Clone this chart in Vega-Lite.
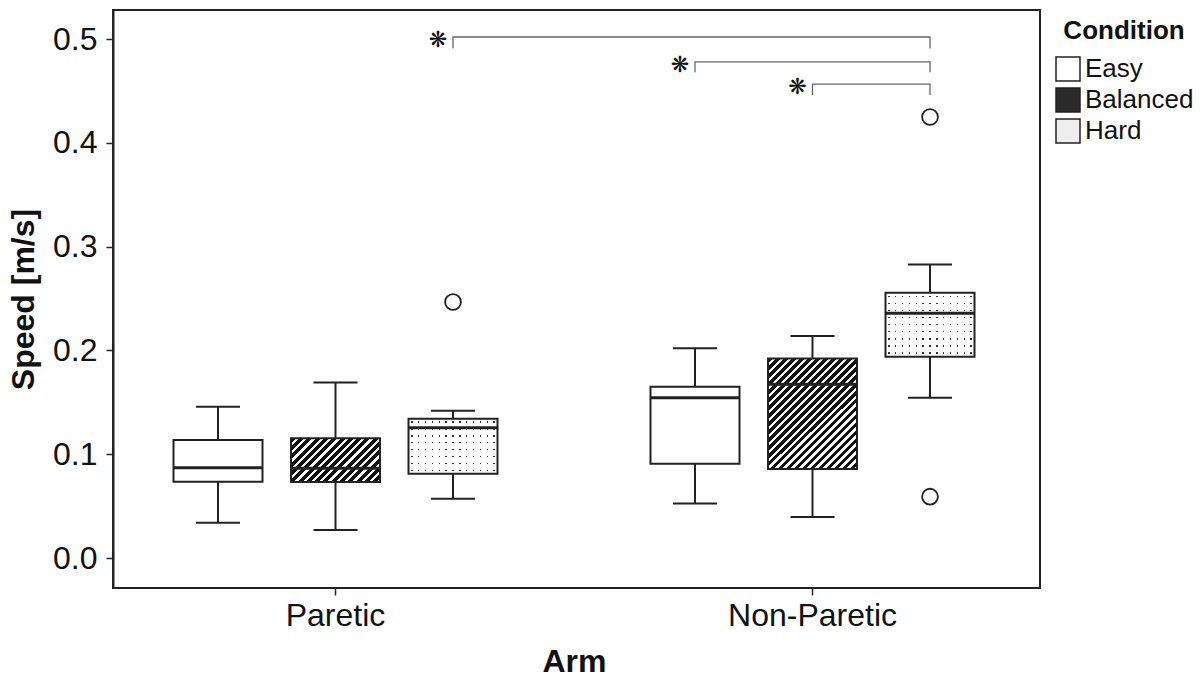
{
  "$schema": "https://vega.github.io/schema/vega-lite/v6.json",
  "width": 927,
  "height": 578,
  "autosize": {"type": "none"},
  "padding": {"left": 113, "top": 10, "right": 163, "bottom": 96},
  "background": "white",
  "config": {
    "font": "Liberation Sans",
    "view": {"stroke": "#222", "strokeWidth": 2},
    "axis": {"grid": false, "domainColor": "#222", "domainWidth": 2, "tickColor": "#222", "tickWidth": 1.5, "tickSize": 7, "labelColor": "#111", "titleColor": "#111", "labelFontSize": 32, "titleFontSize": 32, "titleFontWeight": "bold"}
  },
  "datasets": {
    "boxes": [
      {"Arm": "Paretic", "Condition": "Easy", "lower": 0.034, "q1": 0.0735, "median": 0.087, "q3": 0.1137, "upper": 0.1458},
      {"Arm": "Paretic", "Condition": "Balanced", "lower": 0.027, "q1": 0.0732, "median": 0.0864, "q3": 0.1153, "upper": 0.1692},
      {"Arm": "Paretic", "Condition": "Hard", "lower": 0.0571, "q1": 0.0812, "median": 0.1256, "q3": 0.1342, "upper": 0.1419},
      {"Arm": "Non-Paretic", "Condition": "Easy", "lower": 0.0524, "q1": 0.0909, "median": 0.1545, "q3": 0.1651, "upper": 0.202},
      {"Arm": "Non-Paretic", "Condition": "Balanced", "lower": 0.0395, "q1": 0.0857, "median": 0.1673, "q3": 0.1923, "upper": 0.2139},
      {"Arm": "Non-Paretic", "Condition": "Hard", "lower": 0.1545, "q1": 0.194, "median": 0.2357, "q3": 0.2556, "upper": 0.2829}
    ],
    "outliers": [
      {"Arm": "Paretic", "Condition": "Hard", "Speed": 0.2466},
      {"Arm": "Non-Paretic", "Condition": "Hard", "Speed": 0.0591},
      {"Arm": "Non-Paretic", "Condition": "Hard", "Speed": 0.4249}
    ],
    "brackets": [
      {"id": 1, "seq": 1, "Arm": "Paretic", "Condition": "Hard", "y": 0.491},
      {"id": 1, "seq": 2, "Arm": "Paretic", "Condition": "Hard", "y": 0.502},
      {"id": 1, "seq": 3, "Arm": "Non-Paretic", "Condition": "Hard", "y": 0.502},
      {"id": 1, "seq": 4, "Arm": "Non-Paretic", "Condition": "Hard", "y": 0.491},
      {"id": 2, "seq": 1, "Arm": "Non-Paretic", "Condition": "Easy", "y": 0.468},
      {"id": 2, "seq": 2, "Arm": "Non-Paretic", "Condition": "Easy", "y": 0.478},
      {"id": 2, "seq": 3, "Arm": "Non-Paretic", "Condition": "Hard", "y": 0.478},
      {"id": 2, "seq": 4, "Arm": "Non-Paretic", "Condition": "Hard", "y": 0.468},
      {"id": 3, "seq": 1, "Arm": "Non-Paretic", "Condition": "Balanced", "y": 0.446},
      {"id": 3, "seq": 2, "Arm": "Non-Paretic", "Condition": "Balanced", "y": 0.4566},
      {"id": 3, "seq": 3, "Arm": "Non-Paretic", "Condition": "Hard", "y": 0.4566},
      {"id": 3, "seq": 4, "Arm": "Non-Paretic", "Condition": "Hard", "y": 0.446}
    ],
    "stars": [
      {"Arm": "Paretic", "Condition": "Hard", "y": 0.502, "label": "❋"},
      {"Arm": "Non-Paretic", "Condition": "Easy", "y": 0.478, "label": "❋"},
      {"Arm": "Non-Paretic", "Condition": "Balanced", "y": 0.4566, "label": "❋"}
    ]
  },
  "encoding": {
    "x": {"field": "Arm", "type": "nominal", "sort": ["Paretic", "Non-Paretic"],
      "scale": {"domain": ["Paretic", "Non-Paretic"], "range": [-16, 938], "paddingInner": 0, "paddingOuter": 0},
      "axis": {"title": "Arm", "labelAngle": 0, "labelPadding": 5, "titlePadding": 15, "domain": false}},
    "xOffset": {"field": "Condition", "type": "nominal", "sort": ["Easy", "Balanced", "Hard"],
      "scale": {"domain": ["Easy", "Balanced", "Hard"], "paddingInner": 0.2426, "paddingOuter": 0.651}}
  },
  "layer": [
    {
      "data": {"name": "boxes"},
      "mark": {"type": "rule", "color": "#222", "strokeWidth": 2},
      "encoding": {
        "y": {"field": "lower", "type": "quantitative",
          "scale": {"domain": [-0.0289, 0.528], "nice": false, "zero": false},
          "axis": {"title": "Speed [m/s]", "values": [0, 0.1, 0.2, 0.3, 0.4, 0.5], "format": ".1f", "labelPadding": 9, "titlePadding": 12}},
        "y2": {"field": "q1"}
      }
    },
    {
      "data": {"name": "boxes"},
      "mark": {"type": "rule", "color": "#222", "strokeWidth": 2},
      "encoding": {"y": {"field": "q3", "type": "quantitative"}, "y2": {"field": "upper"}}
    },
    {
      "data": {"name": "boxes"},
      "mark": {"type": "tick", "color": "#222", "opacity": 1, "size": 44, "thickness": 2},
      "encoding": {"y": {"field": "lower", "type": "quantitative"}}
    },
    {
      "data": {"name": "boxes"},
      "mark": {"type": "tick", "color": "#222", "opacity": 1, "size": 44, "thickness": 2},
      "encoding": {"y": {"field": "upper", "type": "quantitative"}}
    },
    {
      "data": {"name": "boxes"},
      "mark": {"type": "bar", "opacity": 1},
      "encoding": {
        "y": {"field": "q1", "type": "quantitative"},
        "y2": {"field": "q3"},
        "fill": {
          "field": "Condition", "type": "nominal",
          "scale": {"domain": ["Easy", "Balanced", "Hard"], "range": ["#ffffff", "#2a2a2a", "#eeeeee"]},
          "legend": {
            "title": "Condition", "orient": "none", "legendX": 942, "legendY": 8, "padding": 0,
            "titleFontSize": 26, "titleFontWeight": "bold", "titleColor": "#111", "titleAnchor": "middle", "titlePadding": 12,
            "labelFontSize": 26, "labelColor": "#111", "labelOffset": 4, "rowPadding": 1,
            "symbolType": "square", "symbolSize": 576, "symbolStrokeColor": "#222", "symbolStrokeWidth": 1.5, "symbolOpacity": 1
          },
          "condition": [
            {"test": "datum.Condition === 'Balanced' && datum.Arm === 'Paretic'", "value": {"gradient": "linear", "x1": 0, "y1": 0, "x2": 1.2013, "y2": 0.5899, "stops": [
              {"offset": 0, "color": "#111"}, {"offset": 0.0375, "color": "#111"}, {"offset": 0.0375, "color": "#fff"}, {"offset": 0.0625, "color": "#fff"},
              {"offset": 0.0625, "color": "#111"}, {"offset": 0.1, "color": "#111"}, {"offset": 0.1, "color": "#fff"}, {"offset": 0.125, "color": "#fff"},
              {"offset": 0.125, "color": "#111"}, {"offset": 0.1625, "color": "#111"}, {"offset": 0.1625, "color": "#fff"}, {"offset": 0.1875, "color": "#fff"},
              {"offset": 0.1875, "color": "#111"}, {"offset": 0.225, "color": "#111"}, {"offset": 0.225, "color": "#fff"}, {"offset": 0.25, "color": "#fff"},
              {"offset": 0.25, "color": "#111"}, {"offset": 0.2875, "color": "#111"}, {"offset": 0.2875, "color": "#fff"}, {"offset": 0.3125, "color": "#fff"},
              {"offset": 0.3125, "color": "#111"}, {"offset": 0.35, "color": "#111"}, {"offset": 0.35, "color": "#fff"}, {"offset": 0.375, "color": "#fff"},
              {"offset": 0.375, "color": "#111"}, {"offset": 0.4125, "color": "#111"}, {"offset": 0.4125, "color": "#fff"}, {"offset": 0.4375, "color": "#fff"},
              {"offset": 0.4375, "color": "#111"}, {"offset": 0.475, "color": "#111"}, {"offset": 0.475, "color": "#fff"}, {"offset": 0.5, "color": "#fff"},
              {"offset": 0.5, "color": "#111"}, {"offset": 0.5375, "color": "#111"}, {"offset": 0.5375, "color": "#fff"}, {"offset": 0.5625, "color": "#fff"},
              {"offset": 0.5625, "color": "#111"}, {"offset": 0.6, "color": "#111"}, {"offset": 0.6, "color": "#fff"}, {"offset": 0.625, "color": "#fff"},
              {"offset": 0.625, "color": "#111"}, {"offset": 0.6625, "color": "#111"}, {"offset": 0.6625, "color": "#fff"}, {"offset": 0.6875, "color": "#fff"},
              {"offset": 0.6875, "color": "#111"}, {"offset": 0.725, "color": "#111"}, {"offset": 0.725, "color": "#fff"}, {"offset": 0.75, "color": "#fff"},
              {"offset": 0.75, "color": "#111"}, {"offset": 0.7875, "color": "#111"}, {"offset": 0.7875, "color": "#fff"}, {"offset": 0.8125, "color": "#fff"},
              {"offset": 0.8125, "color": "#111"}, {"offset": 0.85, "color": "#111"}, {"offset": 0.85, "color": "#fff"}, {"offset": 0.875, "color": "#fff"},
              {"offset": 0.875, "color": "#111"}, {"offset": 0.9125, "color": "#111"}, {"offset": 0.9125, "color": "#fff"}, {"offset": 0.9375, "color": "#fff"},
              {"offset": 0.9375, "color": "#111"}, {"offset": 0.975, "color": "#111"}, {"offset": 0.975, "color": "#fff"}, {"offset": 1, "color": "#fff"}
            ]}},
            {"test": "datum.Condition === 'Balanced' && datum.Arm === 'Non-Paretic'", "value": {"gradient": "linear", "x1": 0, "y1": 0, "x2": 0.8809, "y2": 1.0957, "stops": [
              {"offset": 0, "color": "#111"}, {"offset": 0.024, "color": "#111"}, {"offset": 0.024, "color": "#fff"}, {"offset": 0.04, "color": "#fff"},
              {"offset": 0.04, "color": "#111"}, {"offset": 0.064, "color": "#111"}, {"offset": 0.064, "color": "#fff"}, {"offset": 0.08, "color": "#fff"},
              {"offset": 0.08, "color": "#111"}, {"offset": 0.104, "color": "#111"}, {"offset": 0.104, "color": "#fff"}, {"offset": 0.12, "color": "#fff"},
              {"offset": 0.12, "color": "#111"}, {"offset": 0.144, "color": "#111"}, {"offset": 0.144, "color": "#fff"}, {"offset": 0.16, "color": "#fff"},
              {"offset": 0.16, "color": "#111"}, {"offset": 0.184, "color": "#111"}, {"offset": 0.184, "color": "#fff"}, {"offset": 0.2, "color": "#fff"},
              {"offset": 0.2, "color": "#111"}, {"offset": 0.224, "color": "#111"}, {"offset": 0.224, "color": "#fff"}, {"offset": 0.24, "color": "#fff"},
              {"offset": 0.24, "color": "#111"}, {"offset": 0.264, "color": "#111"}, {"offset": 0.264, "color": "#fff"}, {"offset": 0.28, "color": "#fff"},
              {"offset": 0.28, "color": "#111"}, {"offset": 0.304, "color": "#111"}, {"offset": 0.304, "color": "#fff"}, {"offset": 0.32, "color": "#fff"},
              {"offset": 0.32, "color": "#111"}, {"offset": 0.344, "color": "#111"}, {"offset": 0.344, "color": "#fff"}, {"offset": 0.36, "color": "#fff"},
              {"offset": 0.36, "color": "#111"}, {"offset": 0.384, "color": "#111"}, {"offset": 0.384, "color": "#fff"}, {"offset": 0.4, "color": "#fff"},
              {"offset": 0.4, "color": "#111"}, {"offset": 0.424, "color": "#111"}, {"offset": 0.424, "color": "#fff"}, {"offset": 0.44, "color": "#fff"},
              {"offset": 0.44, "color": "#111"}, {"offset": 0.464, "color": "#111"}, {"offset": 0.464, "color": "#fff"}, {"offset": 0.48, "color": "#fff"},
              {"offset": 0.48, "color": "#111"}, {"offset": 0.504, "color": "#111"}, {"offset": 0.504, "color": "#fff"}, {"offset": 0.52, "color": "#fff"},
              {"offset": 0.52, "color": "#111"}, {"offset": 0.544, "color": "#111"}, {"offset": 0.544, "color": "#fff"}, {"offset": 0.56, "color": "#fff"},
              {"offset": 0.56, "color": "#111"}, {"offset": 0.584, "color": "#111"}, {"offset": 0.584, "color": "#fff"}, {"offset": 0.6, "color": "#fff"},
              {"offset": 0.6, "color": "#111"}, {"offset": 0.624, "color": "#111"}, {"offset": 0.624, "color": "#fff"}, {"offset": 0.64, "color": "#fff"},
              {"offset": 0.64, "color": "#111"}, {"offset": 0.664, "color": "#111"}, {"offset": 0.664, "color": "#fff"}, {"offset": 0.68, "color": "#fff"},
              {"offset": 0.68, "color": "#111"}, {"offset": 0.704, "color": "#111"}, {"offset": 0.704, "color": "#fff"}, {"offset": 0.72, "color": "#fff"},
              {"offset": 0.72, "color": "#111"}, {"offset": 0.744, "color": "#111"}, {"offset": 0.744, "color": "#fff"}, {"offset": 0.76, "color": "#fff"},
              {"offset": 0.76, "color": "#111"}, {"offset": 0.784, "color": "#111"}, {"offset": 0.784, "color": "#fff"}, {"offset": 0.8, "color": "#fff"},
              {"offset": 0.8, "color": "#111"}, {"offset": 0.824, "color": "#111"}, {"offset": 0.824, "color": "#fff"}, {"offset": 0.84, "color": "#fff"},
              {"offset": 0.84, "color": "#111"}, {"offset": 0.864, "color": "#111"}, {"offset": 0.864, "color": "#fff"}, {"offset": 0.88, "color": "#fff"},
              {"offset": 0.88, "color": "#111"}, {"offset": 0.904, "color": "#111"}, {"offset": 0.904, "color": "#fff"}, {"offset": 0.92, "color": "#fff"},
              {"offset": 0.92, "color": "#111"}, {"offset": 0.944, "color": "#111"}, {"offset": 0.944, "color": "#fff"}, {"offset": 0.96, "color": "#fff"},
              {"offset": 0.96, "color": "#111"}, {"offset": 0.984, "color": "#111"}, {"offset": 0.984, "color": "#fff"}, {"offset": 1, "color": "#fff"}
            ]}},
            {"test": "datum.Condition === 'Hard' && datum.Arm === 'Paretic'", "value": {"gradient": "linear", "x1": 0, "y1": 0, "x2": 0, "y2": 1, "stops": [
              {"offset": 0, "color": "#fff"},
              {"offset": 0.05, "color": "#fff"}, {"offset": 0.05, "color": "#333"}, {"offset": 0.075, "color": "#333"}, {"offset": 0.075, "color": "#fff"},
              {"offset": 0.175, "color": "#fff"}, {"offset": 0.175, "color": "#333"}, {"offset": 0.2, "color": "#333"}, {"offset": 0.2, "color": "#fff"},
              {"offset": 0.3, "color": "#fff"}, {"offset": 0.3, "color": "#333"}, {"offset": 0.325, "color": "#333"}, {"offset": 0.325, "color": "#fff"},
              {"offset": 0.425, "color": "#fff"}, {"offset": 0.425, "color": "#333"}, {"offset": 0.45, "color": "#333"}, {"offset": 0.45, "color": "#fff"},
              {"offset": 0.55, "color": "#fff"}, {"offset": 0.55, "color": "#333"}, {"offset": 0.575, "color": "#333"}, {"offset": 0.575, "color": "#fff"},
              {"offset": 0.675, "color": "#fff"}, {"offset": 0.675, "color": "#333"}, {"offset": 0.7, "color": "#333"}, {"offset": 0.7, "color": "#fff"},
              {"offset": 0.8, "color": "#fff"}, {"offset": 0.8, "color": "#333"}, {"offset": 0.825, "color": "#333"}, {"offset": 0.825, "color": "#fff"},
              {"offset": 0.925, "color": "#fff"}, {"offset": 0.925, "color": "#333"}, {"offset": 0.95, "color": "#333"}, {"offset": 0.95, "color": "#fff"},
              {"offset": 1, "color": "#fff"}
            ]}},
            {"test": "datum.Condition === 'Hard' && datum.Arm === 'Non-Paretic'", "value": {"gradient": "linear", "x1": 0, "y1": 0, "x2": 0, "y2": 1, "stops": [
              {"offset": 0, "color": "#fff"},
              {"offset": 0.0446, "color": "#fff"}, {"offset": 0.0446, "color": "#333"}, {"offset": 0.0666, "color": "#333"}, {"offset": 0.0666, "color": "#fff"},
              {"offset": 0.1557, "color": "#fff"}, {"offset": 0.1557, "color": "#333"}, {"offset": 0.1777, "color": "#333"}, {"offset": 0.1777, "color": "#fff"},
              {"offset": 0.2668, "color": "#fff"}, {"offset": 0.2668, "color": "#333"}, {"offset": 0.2888, "color": "#333"}, {"offset": 0.2888, "color": "#fff"},
              {"offset": 0.3779, "color": "#fff"}, {"offset": 0.3779, "color": "#333"}, {"offset": 0.3999, "color": "#333"}, {"offset": 0.3999, "color": "#fff"},
              {"offset": 0.489, "color": "#fff"}, {"offset": 0.489, "color": "#333"}, {"offset": 0.511, "color": "#333"}, {"offset": 0.511, "color": "#fff"},
              {"offset": 0.6001, "color": "#fff"}, {"offset": 0.6001, "color": "#333"}, {"offset": 0.6221, "color": "#333"}, {"offset": 0.6221, "color": "#fff"},
              {"offset": 0.7112, "color": "#fff"}, {"offset": 0.7112, "color": "#333"}, {"offset": 0.7332, "color": "#333"}, {"offset": 0.7332, "color": "#fff"},
              {"offset": 0.8223, "color": "#fff"}, {"offset": 0.8223, "color": "#333"}, {"offset": 0.8443, "color": "#333"}, {"offset": 0.8443, "color": "#fff"},
              {"offset": 0.9334, "color": "#fff"}, {"offset": 0.9334, "color": "#333"}, {"offset": 0.9554, "color": "#333"}, {"offset": 0.9554, "color": "#fff"},
              {"offset": 1, "color": "#fff"}
            ]}}
          ]
        }
      }
    },
    {
      "data": {"name": "boxes"},
      "transform": [{"filter": "datum.Condition === 'Hard'"}],
      "mark": {"type": "bar", "opacity": 1, "fill": {"gradient": "linear", "x1": 0, "y1": 0, "x2": 1, "y2": 0, "stops": [
        {"offset": 0, "color": "#fff"},
        {"offset": 0.0306, "color": "#fff"}, {"offset": 0.0306, "color": "rgba(255,255,255,0)"}, {"offset": 0.0464, "color": "rgba(255,255,255,0)"}, {"offset": 0.0464, "color": "#fff"},
        {"offset": 0.1075, "color": "#fff"}, {"offset": 0.1075, "color": "rgba(255,255,255,0)"}, {"offset": 0.1233, "color": "rgba(255,255,255,0)"}, {"offset": 0.1233, "color": "#fff"},
        {"offset": 0.1844, "color": "#fff"}, {"offset": 0.1844, "color": "rgba(255,255,255,0)"}, {"offset": 0.2002, "color": "rgba(255,255,255,0)"}, {"offset": 0.2002, "color": "#fff"},
        {"offset": 0.2613, "color": "#fff"}, {"offset": 0.2613, "color": "rgba(255,255,255,0)"}, {"offset": 0.2771, "color": "rgba(255,255,255,0)"}, {"offset": 0.2771, "color": "#fff"},
        {"offset": 0.3383, "color": "#fff"}, {"offset": 0.3383, "color": "rgba(255,255,255,0)"}, {"offset": 0.3541, "color": "rgba(255,255,255,0)"}, {"offset": 0.3541, "color": "#fff"},
        {"offset": 0.4152, "color": "#fff"}, {"offset": 0.4152, "color": "rgba(255,255,255,0)"}, {"offset": 0.431, "color": "rgba(255,255,255,0)"}, {"offset": 0.431, "color": "#fff"},
        {"offset": 0.4921, "color": "#fff"}, {"offset": 0.4921, "color": "rgba(255,255,255,0)"}, {"offset": 0.5079, "color": "rgba(255,255,255,0)"}, {"offset": 0.5079, "color": "#fff"},
        {"offset": 0.569, "color": "#fff"}, {"offset": 0.569, "color": "rgba(255,255,255,0)"}, {"offset": 0.5848, "color": "rgba(255,255,255,0)"}, {"offset": 0.5848, "color": "#fff"},
        {"offset": 0.6459, "color": "#fff"}, {"offset": 0.6459, "color": "rgba(255,255,255,0)"}, {"offset": 0.6617, "color": "rgba(255,255,255,0)"}, {"offset": 0.6617, "color": "#fff"},
        {"offset": 0.7229, "color": "#fff"}, {"offset": 0.7229, "color": "rgba(255,255,255,0)"}, {"offset": 0.7387, "color": "rgba(255,255,255,0)"}, {"offset": 0.7387, "color": "#fff"},
        {"offset": 0.7998, "color": "#fff"}, {"offset": 0.7998, "color": "rgba(255,255,255,0)"}, {"offset": 0.8156, "color": "rgba(255,255,255,0)"}, {"offset": 0.8156, "color": "#fff"},
        {"offset": 0.8767, "color": "#fff"}, {"offset": 0.8767, "color": "rgba(255,255,255,0)"}, {"offset": 0.8925, "color": "rgba(255,255,255,0)"}, {"offset": 0.8925, "color": "#fff"},
        {"offset": 0.9536, "color": "#fff"}, {"offset": 0.9536, "color": "rgba(255,255,255,0)"}, {"offset": 0.9694, "color": "rgba(255,255,255,0)"}, {"offset": 0.9694, "color": "#fff"},
        {"offset": 1, "color": "#fff"}
      ]}},
      "encoding": {"y": {"field": "q1", "type": "quantitative"}, "y2": {"field": "q3"}}
    },
    {
      "data": {"name": "boxes"},
      "mark": {"type": "bar", "fillOpacity": 0, "stroke": "#222", "strokeWidth": 2, "strokeOpacity": 1},
      "encoding": {"y": {"field": "q1", "type": "quantitative"}, "y2": {"field": "q3"}}
    },
    {
      "data": {"name": "boxes"},
      "mark": {"type": "tick", "color": "#222", "opacity": 1, "size": 89, "thickness": 3},
      "encoding": {"y": {"field": "median", "type": "quantitative"}}
    },
    {
      "data": {"name": "outliers"},
      "mark": {"type": "point", "shape": "circle", "size": 250, "filled": false, "stroke": "#222", "strokeWidth": 1.8, "fill": "white", "fillOpacity": 1, "opacity": 1},
      "encoding": {"y": {"field": "Speed", "type": "quantitative"}}
    },
    {
      "data": {"name": "brackets"},
      "mark": {"type": "line", "color": "#666", "strokeWidth": 1.3, "interpolate": "linear"},
      "encoding": {
        "y": {"field": "y", "type": "quantitative"},
        "detail": {"field": "id", "type": "nominal"},
        "order": {"field": "seq", "type": "quantitative"}
      }
    },
    {
      "data": {"name": "stars"},
      "mark": {"type": "text", "fontSize": 22, "color": "#111", "align": "center", "baseline": "middle", "dx": -15, "dy": 3, "font": "DejaVu Sans"},
      "encoding": {
        "y": {"field": "y", "type": "quantitative"},
        "text": {"field": "label", "type": "nominal"}
      }
    }
  ]
}
